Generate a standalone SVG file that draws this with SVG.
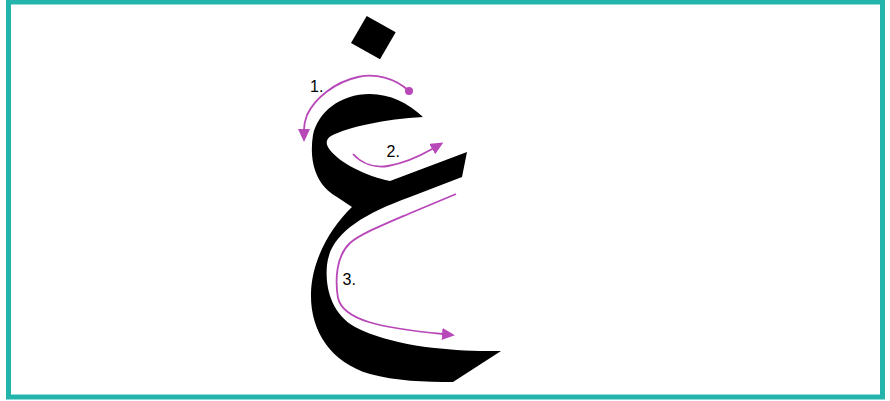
<svg xmlns="http://www.w3.org/2000/svg" width="890" height="401" viewBox="0 0 890 401">
<style>
.frame{fill:#fff;stroke:#23b5ab;stroke-width:5}
.ink{fill:#000}
.stroke{fill:none;stroke:#b847b8;stroke-width:1.8}
.lbl{font-family:"Liberation Sans",Arial,sans-serif;font-size:16px;fill:#000}
</style>
<defs>
<marker id="ah" markerUnits="userSpaceOnUse" markerWidth="13" markerHeight="12" viewBox="0 0 13 12" refX="1" refY="6" orient="auto">
<path d="M0,0 L13,6 L0,12 z" fill="#b847b8"/>
</marker>
</defs>
<rect class="frame" x="8.5" y="2" width="874" height="395"/>
<g id="letter">
<polygon class="ink" points="351,43 366.7,16 395.7,32.3 380,59.3"/>
<path class="ink" d="M423,117 C408,103 390,94 370,94 C340,94 318,112 313,135 C309,160 315,185 337,197 L352,207 C330,228 312,260 311,293 C310,330 330,362 370,374 C395,381 425,382 453,382 L501,351 L480,351 C440,350 390,345 355,327 C330,313 325,285 327,265 C330,235 360,215 410,197 L462,177 L467,152 L390,181 C366,176 340,163 330,150 C325,144 326,139 331,136 C348,127 385,119 423,117 Z"/>
</g>
<g id="connectors">
<path class="stroke" d="M409,91 C395,78 375,73 358,77 C335,82 315,98 307,115 C304,123 304,127 304,130" marker-end="url(#ah)"/>
<circle cx="409" cy="91" r="4" fill="#b847b8"/>
<path class="stroke" d="M353,154 C362,164 375,168 388,166 C405,163 420,156 433,148.5" marker-end="url(#ah)"/>
<path class="stroke" d="M456,194 L413,212 C385,224 360,234 350,243 C336,256 335,280 338,298 C343,320 380,328 443,334" marker-end="url(#ah)"/>
</g>
<g id="labels">
<text class="lbl" x="310" y="92">1.</text>
<text class="lbl" x="386.5" y="157">2.</text>
<text class="lbl" x="342.5" y="285">3.</text>
</g>
</svg>
